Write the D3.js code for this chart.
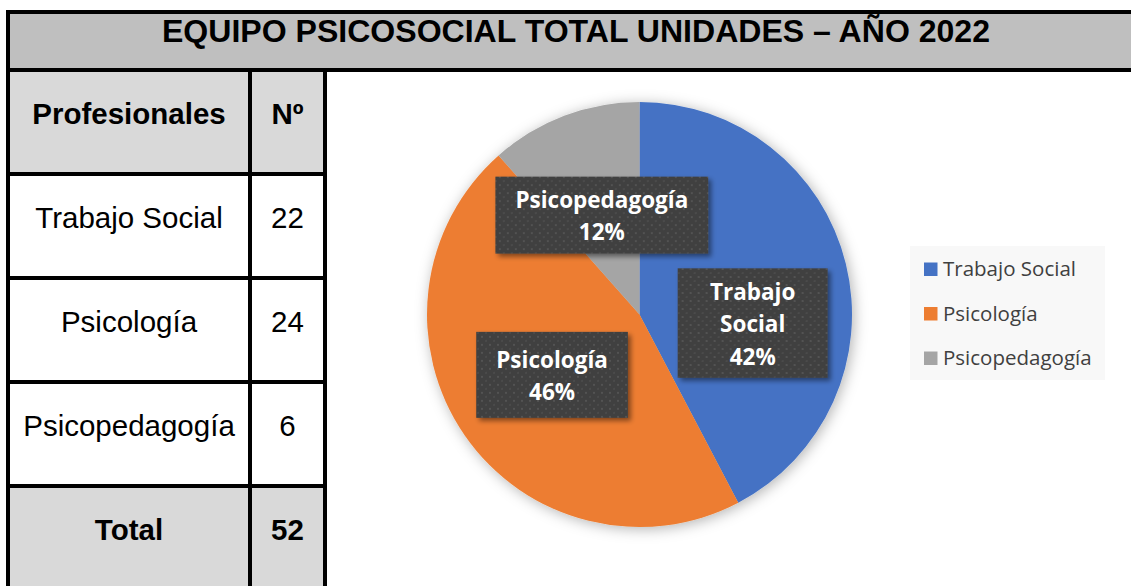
<!DOCTYPE html>
<html>
<head>
<meta charset="utf-8">
<script src="https://cdn.jsdelivr.net/npm/d3@7"></script>
<style>
  body { margin: 0; background: #fff; }
</style>
</head>
<body>
<div id="chart"></div>
<script>
const title = 'EQUIPO PSICOSOCIAL TOTAL UNIDADES – AÑO 2022';
const headers = ['Profesionales', 'Nº'];
const categories = ['Trabajo Social', 'Psicología', 'Psicopedagogía'];
const values = [22, 24, 6];
const totalLabel = 'Total';
const colors = ['#4472c4', '#ed7d31', '#a5a5a5'];

const width = 1131;
const height = 586;
const total = d3.sum(values);

const svg = d3.select('#chart')
  .append('svg')
  .attr('width', width)
  .attr('height', height);

const defs = svg.append('defs');

// sombra del pastel
const pieShadow = defs.append('filter').attr('id', 'pieShadow')
  .attr('x', '-20%').attr('y', '-20%').attr('width', '140%').attr('height', '140%');
pieShadow.append('feDropShadow')
  .attr('dx', 2).attr('dy', 2).attr('stdDeviation', 7)
  .attr('flood-color', '#000').attr('flood-opacity', 0.3);

const boxShadow = defs.append('filter').attr('id', 'boxShadow')
  .attr('x', '-20%').attr('y', '-20%').attr('width', '140%').attr('height', '140%');
boxShadow.append('feDropShadow')
  .attr('dx', 3).attr('dy', 3).attr('stdDeviation', 2.5)
  .attr('flood-color', '#000').attr('flood-opacity', 0.45);

// trama de puntos de las etiquetas
const dots = defs.append('pattern').attr('id', 'dots')
  .attr('width', 8).attr('height', 8).attr('patternUnits', 'userSpaceOnUse');
dots.append('rect').attr('width', 8).attr('height', 8).attr('fill', '#404040');
dots.append('rect').attr('x', 1).attr('y', 1).attr('width', 2).attr('height', 2).attr('fill', '#535353');
dots.append('rect').attr('x', 5).attr('y', 5).attr('width', 2).attr('height', 2).attr('fill', '#4b4b4b');

// ---- Tabla ----
const rows = [headers]
  .concat(categories.map((c, i) => [c, values[i]]))
  .concat([[totalLabel, total]]);

const colX = [8, 250, 325];
const rowY = d3.scaleLinear().domain([0, rows.length]).range([70, 590]);
const rowH = rowY(1) - rowY(0);
const grayRow = i => i === 0 || i === rows.length - 1;

// cabecera de título
svg.append('rect')
  .attr('x', 8).attr('y', 12)
  .attr('width', width + 10).attr('height', 58)
  .attr('fill', '#bfbfbf')
  .attr('stroke', '#000').attr('stroke-width', 4);

svg.append('text')
  .attr('x', 576).attr('y', 42)
  .attr('text-anchor', 'middle')
  .attr('font-family', 'Liberation Sans, Arial, sans-serif')
  .attr('font-weight', 'bold')
  .attr('font-size', 30.5)
  .attr('textLength', 828)
  .attr('lengthAdjust', 'spacingAndGlyphs')
  .attr('fill', '#000')
  .text(title);

const rowG = svg.selectAll('g.row')
  .data(rows)
  .enter()
  .append('g')
  .classed('row', true)
  .attr('transform', (d, i) => `translate(0,${rowY(i)})`);

rowG.selectAll('rect')
  .data((d, i) => d.map((v, j) => ({ v, j, i })))
  .enter()
  .append('rect')
  .attr('x', d => colX[d.j])
  .attr('width', d => colX[d.j + 1] - colX[d.j])
  .attr('height', rowH)
  .attr('fill', d => grayRow(d.i) ? '#d9d9d9' : '#fff')
  .attr('stroke', '#000')
  .attr('stroke-width', 4);

rowG.selectAll('text')
  .data((d, i) => d.map((v, j) => ({ v, j, i })))
  .enter()
  .append('text')
  .attr('x', d => (colX[d.j] + colX[d.j + 1]) / 2)
  .attr('y', 54)
  .attr('text-anchor', 'middle')
  .attr('font-family', 'Liberation Sans, Arial, sans-serif')
  .attr('font-size', 29.5)
  .attr('font-weight', d => grayRow(d.i) ? 'bold' : 'normal')
  .attr('fill', '#000')
  .text(d => d.v);

// ---- Gráfico circular ----
const cx = 639.5, cy = 314.5, radius = 212.5;
const pie = d3.pie().sort(null).value(d => d);
const arcs = pie(values);
const arc = d3.arc().innerRadius(0).outerRadius(radius);

const pieG = svg.append('g').attr('transform', `translate(${cx},${cy})`);

pieG.append('g')
  .attr('filter', 'url(#pieShadow)')
  .selectAll('path')
  .data(arcs)
  .enter()
  .append('path')
  .attr('d', arc)
  .attr('fill', (d, i) => colors[i]);

// ajuste de posición de etiquetas (como lo hace Excel)
const labelNudge = [[10, 34], [0, 0], [0, 0]];
const labelWrap = [true, false, false];
const labelPadY = [12, 21, 12];
const pct = d3.format('.0%');
const lineH = 32.5;

arcs.forEach((d, i) => {
  const c = arc.centroid(d);
  const x = c[0] + labelNudge[i][0];
  const y = c[1] + labelNudge[i][1];
  const lines = (labelWrap[i] ? categories[i].split(' ') : [categories[i]])
    .concat([pct(values[i] / total)]);

  const g = pieG.append('g').attr('transform', `translate(${x},${y})`);
  const box = g.append('rect')
    .attr('fill', 'url(#dots)')
    .attr('filter', 'url(#boxShadow)');

  const txt = g.append('text')
    .attr('text-anchor', 'middle')
    .attr('font-family', 'Open Sans, Noto Sans, sans-serif')
    .attr('font-weight', 'bold')
    .attr('font-size', 22.5)
    .attr('fill', '#fff');

  txt.selectAll('tspan')
    .data(lines)
    .enter()
    .append('tspan')
    .attr('x', 0)
    .attr('y', (l, k) => (k - (lines.length - 1) / 2) * lineH + 9)
    .text(l => l);

  const w = Math.max(txt.node().getBBox().width + 40, 150);
  const h = lines.length * lineH + labelPadY[i];
  box.attr('x', -w / 2).attr('y', -h / 2).attr('width', w).attr('height', h);
});

// ---- Leyenda ----
const legend = svg.append('g');
legend.append('rect')
  .attr('x', 910).attr('y', 246)
  .attr('width', 195).attr('height', 134)
  .attr('fill', '#f8f8f8');

const legendY = d3.scalePoint().domain(categories).range([276, 365]);

legend.selectAll('rect.key')
  .data(categories)
  .enter()
  .append('rect')
  .classed('key', true)
  .attr('x', 924)
  .attr('y', d => legendY(d) - 13.5)
  .attr('width', 13.5).attr('height', 13.5)
  .attr('fill', (d, i) => colors[i]);

legend.selectAll('text')
  .data(categories)
  .enter()
  .append('text')
  .attr('x', 943)
  .attr('y', d => legendY(d))
  .attr('font-family', 'Open Sans, Noto Sans, sans-serif')
  .attr('font-size', 20.5)
  .attr('fill', '#404040')
  .text(d => d);
</script>
</body>
</html>
